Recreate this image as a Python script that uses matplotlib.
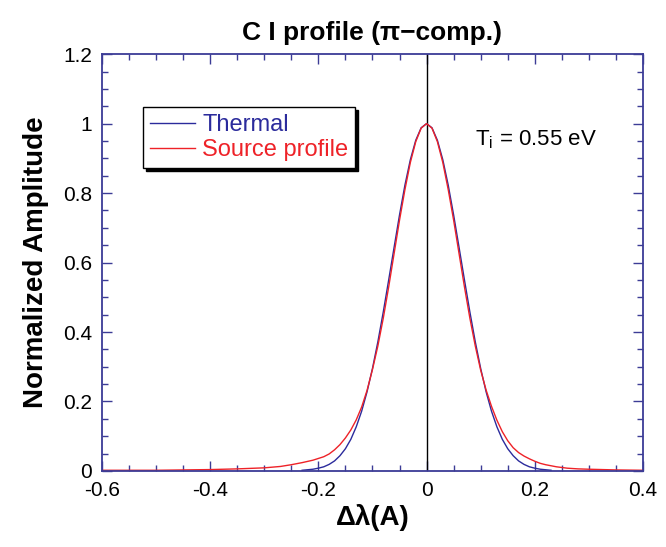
import matplotlib as mpl
mpl.use('Agg')
import matplotlib.pyplot as plt
from matplotlib.ticker import MultipleLocator, FormatStrFormatter

plt.rcParams['font.family'] = ['Liberation Sans', 'DejaVu Sans']
plt.rcParams['mathtext.fontset'] = 'custom'
plt.rcParams['mathtext.rm'] = 'Liberation Sans'
plt.rcParams['mathtext.it'] = 'Liberation Sans'
plt.rcParams['axes.unicode_minus'] = False

# thermal (gaussian) profile
thermalX = [-0.23, -0.21, -0.20, -0.19, -0.18, -0.17, -0.16, -0.15, -0.14, -0.13,
            -0.12, -0.11, -0.10, -0.09, -0.08, -0.07, -0.06, -0.05, -0.04, -0.03,
            -0.02, -0.01, 0.0, 0.01, 0.02, 0.03, 0.04, 0.05, 0.06, 0.07,
            0.08, 0.09, 0.10, 0.11, 0.12, 0.13, 0.14, 0.15, 0.16, 0.17,
            0.18, 0.19, 0.20, 0.21, 0.23]
thermalY = [0.002, 0.005, 0.008, 0.012, 0.019, 0.029, 0.044, 0.064, 0.091, 0.127,
            0.172, 0.228, 0.295, 0.372, 0.458, 0.550, 0.644, 0.737, 0.823, 0.896,
            0.952, 0.988, 1.0, 0.988, 0.952, 0.896, 0.823, 0.737, 0.644, 0.550,
            0.458, 0.372, 0.295, 0.228, 0.172, 0.127, 0.091, 0.064, 0.044, 0.029,
            0.019, 0.012, 0.008, 0.005, 0.002]

# measured source profile
sourceX = [-0.60, -0.55, -0.50, -0.45, -0.40, -0.35, -0.30, -0.27, -0.25, -0.23,
           -0.21, -0.19, -0.18, -0.17, -0.16, -0.15, -0.14, -0.13, -0.12, -0.11,
           -0.10, -0.09, -0.08, -0.07, -0.06, -0.05, -0.04, -0.03, -0.02, -0.01,
           0.0, 0.01, 0.02, 0.03, 0.04, 0.05, 0.06, 0.07, 0.08, 0.09,
           0.10, 0.11, 0.12, 0.13, 0.14, 0.15, 0.16, 0.17, 0.18, 0.19,
           0.20, 0.21, 0.22, 0.24, 0.26, 0.28, 0.30, 0.35, 0.40]
sourceY = [0.002, 0.002, 0.002, 0.003, 0.004, 0.006, 0.009, 0.013, 0.018, 0.024,
           0.031, 0.041, 0.049, 0.061, 0.076, 0.095, 0.118, 0.147, 0.184, 0.232,
           0.292, 0.360, 0.440, 0.530, 0.626, 0.722, 0.810, 0.888, 0.948, 0.987,
           1.0, 0.987, 0.948, 0.888, 0.810, 0.722, 0.626, 0.530, 0.440, 0.360,
           0.290, 0.233, 0.186, 0.146, 0.113, 0.087, 0.067, 0.053, 0.043, 0.035,
           0.028, 0.022, 0.018, 0.012, 0.008, 0.006, 0.005, 0.003, 0.002]

axisColor = '#3c3c96'

fig = plt.figure(figsize=(6.66, 5.47), dpi=100)
ax = fig.add_axes([0.153, 0.139, 0.8125, 0.762])

ax.axvline(0, color='black', linewidth=1.0)
ax.plot(thermalX, thermalY, color='#2b2b9c', linewidth=1.0, label='Thermal')
ax.plot(sourceX, sourceY, color='#ee2228', linewidth=1.0, label='Source profile')

ax.set_xlim(-0.6, 0.4)
ax.set_ylim(0, 1.2)
ax.xaxis.set_major_locator(MultipleLocator(0.2))
ax.xaxis.set_minor_locator(MultipleLocator(0.05))
ax.yaxis.set_major_locator(MultipleLocator(0.2))
ax.yaxis.set_minor_locator(MultipleLocator(0.05))
ax.xaxis.set_major_formatter(FormatStrFormatter('%g'))
ax.yaxis.set_major_formatter(FormatStrFormatter('%g'))

for s in ax.spines.values():
    s.set_color(axisColor)
    s.set_linewidth(1.3)
ax.tick_params(which='both', direction='in', top=True, right=True,
               color=axisColor, width=1.0, labelsize=15, labelcolor='black')
ax.tick_params(which='major', length=7, pad=7)
ax.tick_params(which='minor', length=4)

ax.set_title('C I profile (\u03c0\u2212comp.)', fontsize=19, fontweight='bold', pad=10)
ax.set_xlabel('\u0394\u03bb(A)', fontsize=20, fontweight='bold', labelpad=3)
ax.set_ylabel('Normalized Amplitude', fontsize=20, fontweight='bold', labelpad=10)

ax.text(0.09, 0.955, 'T$_\\mathrm{i}$ = 0.55 eV', fontsize=16, va='center', ha='left')

leg = ax.legend(loc='upper left', bbox_to_anchor=(0.076, 0.873), borderaxespad=0,
                fontsize=17, fancybox=False, shadow={'color': 'black', 'alpha': 1.0},
                handlelength=1.9, handletextpad=0.3, labelspacing=0.12,
                borderpad=0.3, framealpha=1.0, edgecolor='black')
leg.get_frame().set_linewidth(1.0)
for txt, line in zip(leg.get_texts(), leg.get_lines()):
    txt.set_color(line.get_color())

plt.savefig('out.png', dpi=100)
